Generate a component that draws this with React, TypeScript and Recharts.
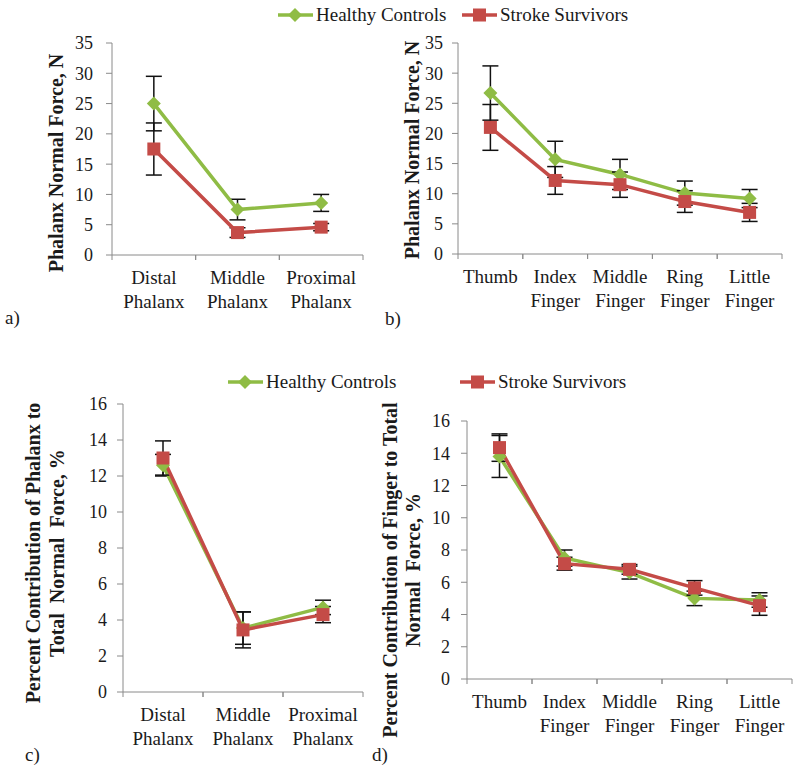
import React from 'react';
import {LineChart, Line, XAxis, YAxis, ErrorBar} from 'recharts';

const FONT = '"Liberation Serif", "Times New Roman", serif';
const GREEN = '#8FBC45';
const RED = '#C44B47';
const AXIS = '#8a8a8a';
const INK = '#1a1a1a';

// categories
const phalanxCats = ['Distal\nPhalanx', 'Middle\nPhalanx', 'Proximal\nPhalanx'];
const fingerCats = ['Thumb', 'Index\nFinger', 'Middle\nFinger', 'Ring\nFinger', 'Little\nFinger'];

// a) phalanx normal force, N
const forcePhalanxHealthy = [25.0, 7.5, 8.6];
const forcePhalanxHealthyErr = [4.5, 1.7, 1.4];
const forcePhalanxStroke = [17.5, 3.7, 4.6];
const forcePhalanxStrokeErr = [4.3, 0.8, 0.6];

// b) finger normal force, N
const forceFingerHealthy = [26.7, 15.7, 13.2, 10.1, 9.2];
const forceFingerHealthyErr = [4.5, 3.0, 2.5, 2.0, 1.5];
const forceFingerStroke = [21.0, 12.2, 11.5, 8.7, 6.9];
const forceFingerStrokeErr = [3.8, 2.3, 2.1, 1.8, 1.5];

// c) percent contribution of phalanx
const pctPhalanxHealthy = [12.6, 3.55, 4.7];
const pctPhalanxHealthyErr = [0.6, 0.9, 0.4];
const pctPhalanxStroke = [13.0, 3.45, 4.3];
const pctPhalanxStrokeErr = [0.95, 1.0, 0.45];

// d) percent contribution of finger
const pctFingerHealthy = [13.8, 7.5, 6.6, 5.0, 4.9];
const pctFingerHealthyErr = [1.3, 0.5, 0.4, 0.45, 0.45];
const pctFingerStroke = [14.35, 7.15, 6.8, 5.65, 4.55];
const pctFingerStrokeErr = [0.85, 0.4, 0.3, 0.45, 0.6];

const forceTicks = [0, 5, 10, 15, 20, 25, 30, 35];
const pctTicks = [0, 2, 4, 6, 8, 10, 12, 14, 16];

const renderDiamond = (p: any) => {
    const {cx, cy, index} = p;
    if (cx == null || cy == null) return <g key={`d${index}`}/>;
    const r = 7;
    return <path key={`d${index}`} d={`M${cx},${cy - r}L${cx + r},${cy}L${cx},${cy + r}L${cx - r},${cy}Z`} fill={GREEN}/>;
};

const renderSquare = (p: any) => {
    const {cx, cy, index} = p;
    if (cx == null || cy == null) return <g key={`s${index}`}/>;
    const r = 6.5;
    return <rect key={`s${index}`} x={cx - r} y={cy - r} width={r * 2} height={r * 2} fill={RED}/>;
};

function CatTick(props: any) {
    const {x, y, payload, half} = props;
    const lines = String(payload.value).split('\n');
    return (
        <g>
            <line x1={x - half} x2={x - half} y1={y} y2={y + 5} stroke={AXIS}/>
            <line x1={x + half} x2={x + half} y1={y} y2={y + 5} stroke={AXIS}/>
            <text x={x} y={y} textAnchor="middle" fontFamily={FONT} fontSize={19} fill={INK}>
                {lines.map((l, i) => <tspan key={i} x={x} dy={i === 0 ? 29 : 24}>{l}</tspan>)}
            </text>
        </g>
    );
}

function YTitle({lines, xs, cy}: { lines: string[]; xs: number[]; cy: number }) {
    return (
        <g>
            {lines.map((l, i) => (
                <text key={i} x={xs[i] + 6.5} y={cy} transform={`rotate(-90 ${xs[i] + 6.5} ${cy})`}
                      textAnchor="middle" fontFamily={FONT} fontSize={20} fontWeight="bold" fill={INK}
                      style={{whiteSpace: 'pre'}}>{l}</text>
            ))}
        </g>
    );
}

type PanelProps = {
    cats: string[];
    healthy: number[]; healthyErr: number[];
    stroke: number[]; strokeErr: number[];
    ticks: number[];
    left: number; top: number; width: number; height: number;
    margin: { top: number; right: number; bottom: number; left: number };
    yWidth: number; tickMargin: number;
    title: string[]; titleXs: number[]; titleY: number;
};

function Panel(p: PanelProps) {
    const data = p.cats.map((c, i) => ({
        cat: c, healthy: p.healthy[i], hErr: p.healthyErr[i], stroke: p.stroke[i], sErr: p.strokeErr[i],
    }));
    const plotW = p.width - p.margin.left - p.margin.right - p.yWidth;
    const half = plotW / (2 * p.cats.length);
    return (
        <div style={{position: 'absolute', left: p.left, top: p.top}}>
            <LineChart width={p.width} height={p.height} data={data} margin={p.margin}>
                <XAxis dataKey="cat" padding={{left: half, right: half}} height={50} interval={0}
                       tickLine={false} tickSize={0} tickMargin={0} axisLine={{stroke: AXIS}}
                       tick={<CatTick half={half}/>}/>
                <YAxis width={p.yWidth} domain={[0, p.ticks[p.ticks.length - 1]]} ticks={p.ticks} interval={0}
                       tickSize={6} tickMargin={p.tickMargin} axisLine={{stroke: AXIS}} tickLine={{stroke: AXIS}}
                       tick={{fontFamily: FONT, fontSize: 18, fill: INK}}
                       label={<YTitle lines={p.title} xs={p.titleXs} cy={p.titleY}/>}/>
                <Line dataKey="healthy" stroke={GREEN} strokeWidth={3.5} dot={renderDiamond}
                      activeDot={false} isAnimationActive={false}>
                    <ErrorBar dataKey="hErr" width={8} stroke="#111" strokeWidth={1.5} isAnimationActive={false}/>
                </Line>
                <Line dataKey="stroke" stroke={RED} strokeWidth={3.5} dot={renderSquare}
                      activeDot={false} isAnimationActive={false}>
                    <ErrorBar dataKey="sErr" width={8} stroke="#111" strokeWidth={1.5} isAnimationActive={false}/>
                </Line>
            </LineChart>
        </div>
    );
}

function LegendRow({top, greenX, redX}: { top: number; greenX: number; redX: number }) {
    return (
        <svg width={800} height={30} style={{position: 'absolute', left: 0, top}}>
            <line x1={greenX} x2={greenX + 35} y1={15} y2={15} stroke={GREEN} strokeWidth={3.5}/>
            <path d={`M${greenX + 17},8L${greenX + 24},15L${greenX + 17},22L${greenX + 10},15Z`} fill={GREEN}/>
            <text x={greenX + 38} y={21} fontFamily={FONT} fontSize={19} fill={INK}>Healthy Controls</text>
            <line x1={redX} x2={redX + 35} y1={15} y2={15} stroke={RED} strokeWidth={3.5}/>
            <rect x={redX + 11} y={8.5} width={13} height={13} fill={RED}/>
            <text x={redX + 38} y={21} fontFamily={FONT} fontSize={19} fill={INK}>Stroke Survivors</text>
        </svg>
    );
}

const letterStyle = (left: number, top: number): React.CSSProperties => ({
    position: 'absolute', left, top, fontFamily: FONT, fontSize: 19, color: INK, lineHeight: '20px',
});

export default function App() {
    return (
        <div style={{position: 'absolute', left: 0, top: 0, width: 800, height: 773, background: '#fff', overflow: 'hidden'}}>
            <Panel cats={phalanxCats} healthy={forcePhalanxHealthy} healthyErr={forcePhalanxHealthyErr}
                   stroke={forcePhalanxStroke} strokeErr={forcePhalanxStrokeErr} ticks={forceTicks}
                   left={0} top={0} width={380} height={320} margin={{top: 43, right: 17, bottom: 15, left: 62}}
                   yWidth={50} tickMargin={13} title={['Phalanx Normal Force, N']} titleXs={[56]} titleY={163}/>
            <Panel cats={fingerCats} healthy={forceFingerHealthy} healthyErr={forceFingerHealthyErr}
                   stroke={forceFingerStroke} strokeErr={forceFingerStrokeErr} ticks={forceTicks}
                   left={390} top={0} width={410} height={320} margin={{top: 43, right: 18, bottom: 16, left: 28}}
                   yWidth={40} tickMargin={9} title={['Phalanx Normal Force, N']} titleXs={[22]} titleY={150}/>
            <Panel cats={phalanxCats} healthy={pctPhalanxHealthy} healthyErr={pctPhalanxHealthyErr}
                   stroke={pctPhalanxStroke} strokeErr={pctPhalanxStrokeErr} ticks={pctTicks}
                   left={0} top={360} width={380} height={413} margin={{top: 44, right: 17, bottom: 31, left: 73}}
                   yWidth={50} tickMargin={10}
                   title={['Percent Contribution of Phalanx to', 'Total  Normal  Force, %']} titleXs={[33, 57]} titleY={193}/>
            <Panel cats={fingerCats} healthy={pctFingerHealthy} healthyErr={pctFingerHealthyErr}
                   stroke={pctFingerStroke} strokeErr={pctFingerStrokeErr} ticks={pctTicks}
                   left={370} top={360} width={430} height={413} margin={{top: 61, right: 8, bottom: 44, left: 57}}
                   yWidth={40} tickMargin={11}
                   title={['Percent Contribution of Finger to Total', 'Normal  Force, %']} titleXs={[20, 43]} titleY={210}/>
            <LegendRow top={0} greenX={278} redX={462}/>
            <LegendRow top={367} greenX={228} redX={460}/>
            <div style={letterStyle(5, 308)}>a)</div>
            <div style={letterStyle(385, 309)}>b)</div>
            <div style={letterStyle(25, 745)}>c)</div>
            <div style={letterStyle(372, 745)}>d)</div>
        </div>
    );
}
